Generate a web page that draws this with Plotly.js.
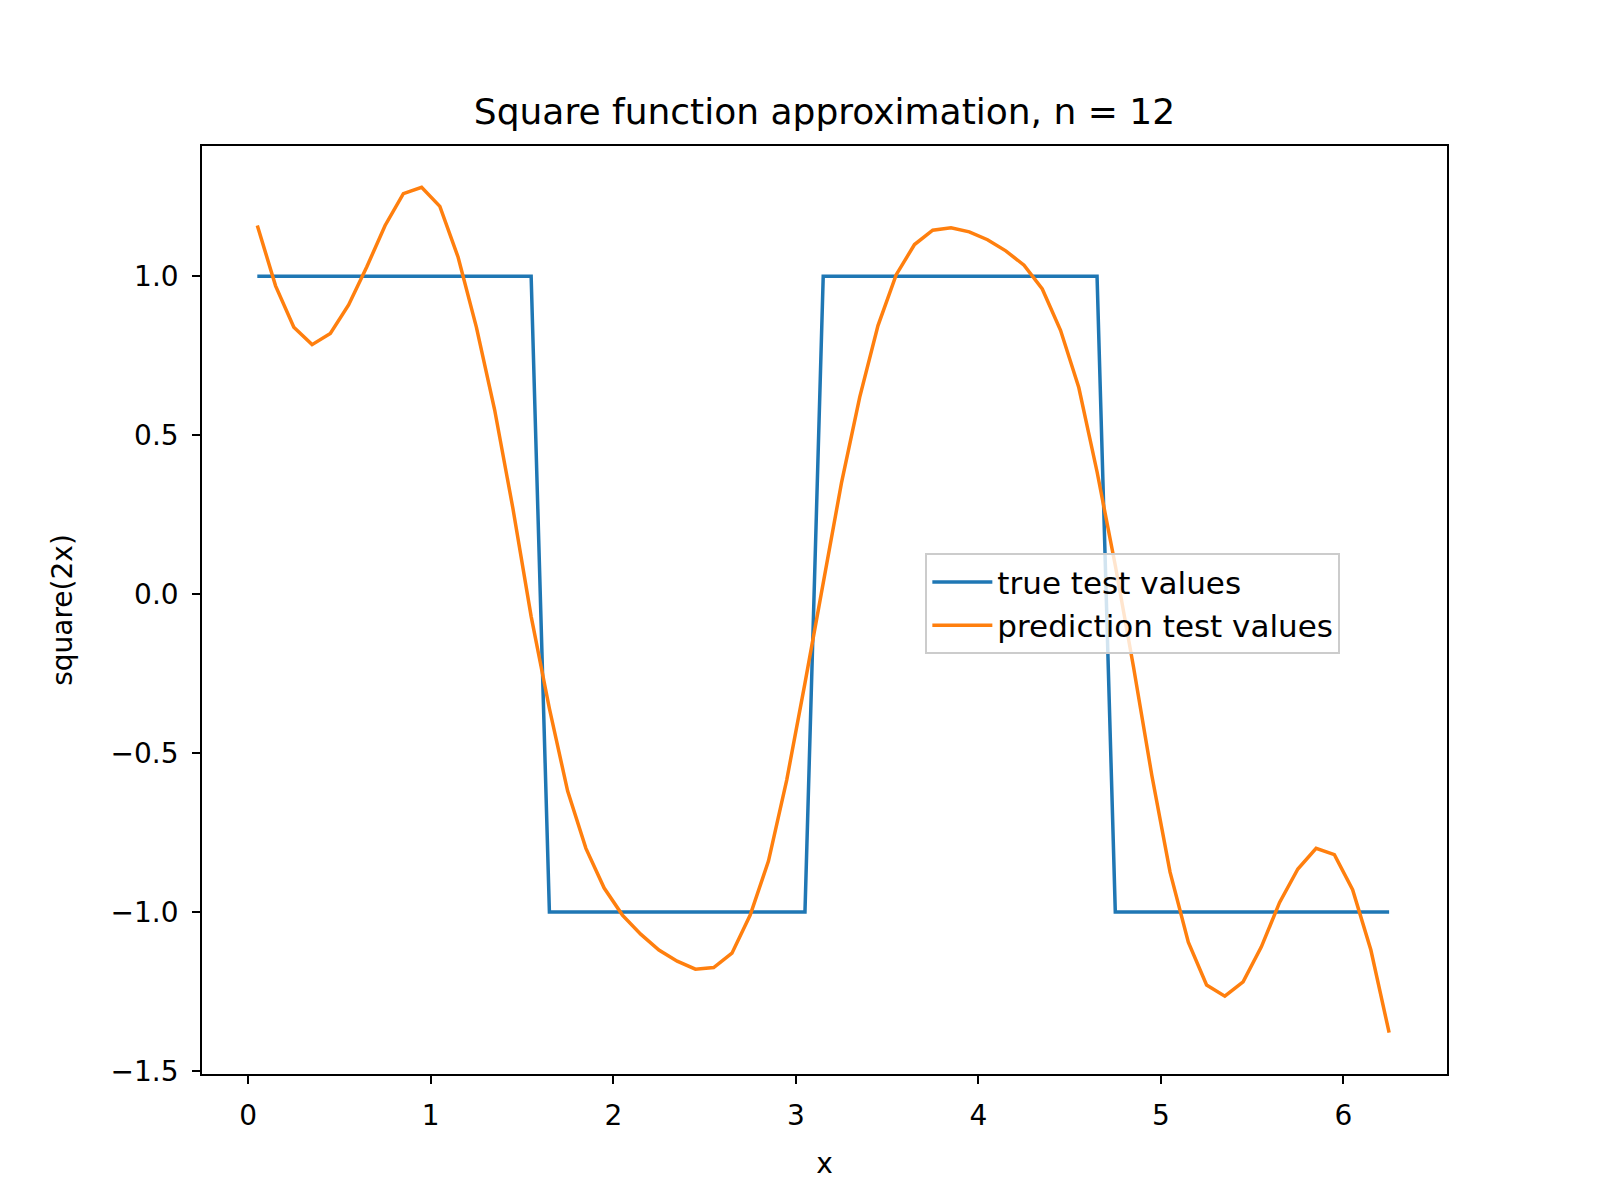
<!DOCTYPE html>
<html>
<head>
<meta charset="utf-8">
<script src="https://cdn.plot.ly/plotly-3.0.1.min.js"></script>
<style>html,body{margin:0;padding:0;background:#fff}</style>
</head>
<body>
<div id="chart" style="width:1600px;height:1200px"></div>
<script>
// x grid of the test set
const xValues = [
  0.05, 0.15, 0.25, 0.35, 0.45, 0.55, 0.65, 0.75, 0.85, 0.95,
  1.05, 1.15, 1.25, 1.35, 1.45, 1.55, 1.65, 1.75, 1.85, 1.95,
  2.05, 2.15, 2.25, 2.35, 2.45, 2.55, 2.65, 2.75, 2.85, 2.95,
  3.05, 3.15, 3.25, 3.35, 3.45, 3.55, 3.65, 3.75, 3.85, 3.95,
  4.05, 4.15, 4.25, 4.35, 4.45, 4.55, 4.65, 4.75, 4.85, 4.95,
  5.05, 5.15, 5.25, 5.35, 5.45, 5.55, 5.65, 5.75, 5.85, 5.95,
  6.05, 6.15, 6.25
];

const trueValues = [
  1, 1, 1, 1, 1, 1, 1, 1, 1, 1,
  1, 1, 1, 1, 1, 1, -1, -1, -1, -1,
  -1, -1, -1, -1, -1, -1, -1, -1, -1, -1,
  -1, 1, 1, 1, 1, 1, 1, 1, 1, 1,
  1, 1, 1, 1, 1, 1, 1, -1, -1, -1,
  -1, -1, -1, -1, -1, -1, -1, -1, -1, -1,
  -1, -1, -1
];

const predictionValues = [
  1.16, 0.97, 0.84, 0.785, 0.82, 0.91, 1.03, 1.16, 1.26, 1.28,
  1.22, 1.06, 0.84, 0.58, 0.27, -0.07, -0.36, -0.62, -0.80, -0.925,
  -1.01, -1.07, -1.12, -1.155, -1.18, -1.175, -1.13, -1.01, -0.84, -0.585,
  -0.28, 0.04, 0.35, 0.62, 0.845, 1.005, 1.10, 1.145, 1.153, 1.14,
  1.115, 1.08, 1.035, 0.96, 0.83, 0.65, 0.385, 0.09, -0.23, -0.57,
  -0.875, -1.095, -1.23, -1.265, -1.22, -1.11, -0.97, -0.865, -0.80, -0.82,
  -0.93, -1.12, -1.38
];

const yTicks = [-1.5, -1.0, -0.5, 0.0, 0.5, 1.0];
const xTicks = [0, 1, 2, 3, 4, 5, 6];

const font = 'DejaVu Sans, sans-serif';

const axisCommon = {
  showgrid: false,
  zeroline: false,
  showline: true,
  mirror: true,
  linecolor: '#000',
  linewidth: 1.6,
  ticks: 'outside',
  ticklen: 8,
  tickwidth: 1.6,
  tickcolor: '#000',
  ticklabelstandoff: 8,
  tickfont: {family: font, size: 28, color: '#000'},
};

Plotly.newPlot('chart', [
  {
    x: xValues, y: trueValues, name: 'true test values',
    mode: 'lines', type: 'scatter',
    line: {color: '#1f77b4', width: 3.5},
  },
  {
    x: xValues, y: predictionValues, name: 'prediction test values',
    mode: 'lines', type: 'scatter',
    line: {color: '#ff7f0e', width: 3.5},
  },
], {
  width: 1600, height: 1200,
  margin: {l: 202, r: 153, t: 146, b: 126},
  paper_bgcolor: '#fff', plot_bgcolor: '#fff',
  font: {family: font, color: '#000'},
  title: {text: 'Square function approximation, n = 12', font: {family: font, size: 36, color: '#000'},
    x: 0.5, xref: 'paper', y: 1 - 111 / 1200, yanchor: 'middle'},
  xaxis: Object.assign({}, axisCommon, {
    range: [-0.253, 6.567], tickvals: xTicks,
    title: {text: 'x', font: {family: font, size: 28, color: '#000'}, standoff: 22},
  }),
  yaxis: Object.assign({}, axisCommon, {
    range: [-1.51, 1.41], tickvals: yTicks, tickformat: '.1f',
    title: {text: 'square(2x)', font: {family: font, size: 28, color: '#000'}, standoff: 30},
  }),
  legend: {
    x: 0.581, y: 0.561, xanchor: 'left', yanchor: 'top',
    bgcolor: 'rgba(255,255,255,0.8)', bordercolor: '#ccc', borderwidth: 2,
    font: {family: font, size: 31, color: '#000'},
    itemwidth: 60,
  },
  showlegend: true,
}, {displayModeBar: false});
</script>
</body>
</html>
